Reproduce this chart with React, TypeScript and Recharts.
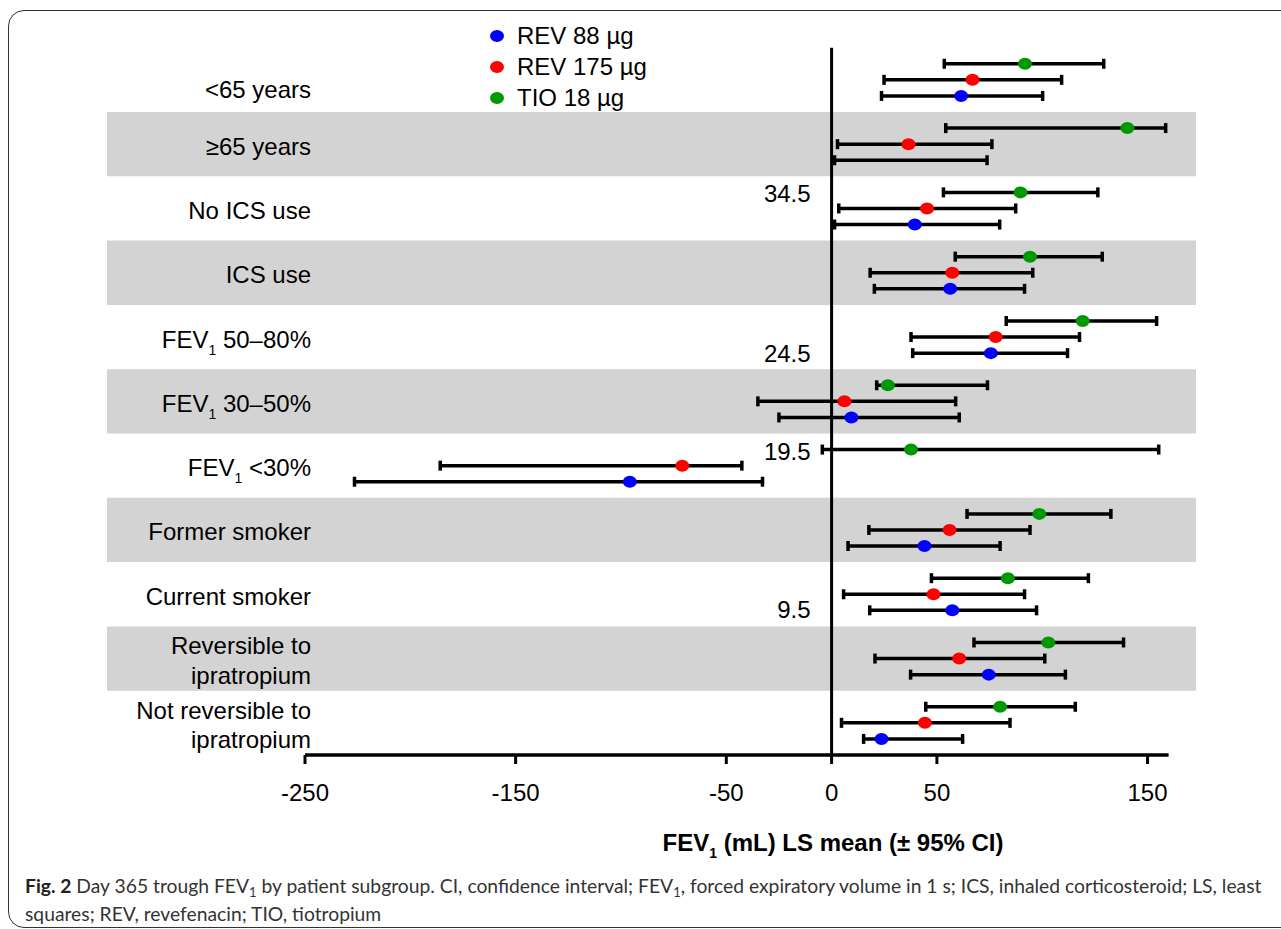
import React from "react";
import { ScatterChart, Scatter, XAxis, YAxis, ReferenceArea, ReferenceLine, ErrorBar, Legend } from "recharts";

// subgroup rows, top to bottom
const categories: string[][] = [
  ["<65 years"],
  ["≥65 years"],
  ["No ICS use"],
  ["ICS use"],
  ["FEV1 50–80%"],
  ["FEV1 30–50%"],
  ["FEV1 <30%"],
  ["Former smoker"],
  ["Current smoker"],
  ["Reversible to", "ipratropium"],
  ["Not reversible to", "ipratropium"],
];

// REV 88 µg (blue) – mean is missing for ≥65 years in the figure
const rev88Mean = [61.5, null, 39.5, 56.3, 75.6, 9.4, -95.8, 44.1, 57.3, 74.6, 23.7];
const rev88Low = [23.7, 1.4, 1.4, 20.3, 38.5, -25.0, -226.5, 7.8, 18.1, 37.5, 15.2];
const rev88High = [100.2, 73.8, 79.8, 91.6, 112.0, 60.6, -32.8, 80.0, 97.3, 111.0, 62.2];

// REV 175 µg (red)
const rev175Mean = [66.9, 36.5, 45.3, 57.3, 77.9, 6.1, -70.9, 56.0, 48.4, 60.6, 44.3];
const rev175Low = [24.9, 2.8, 3.4, 18.3, 37.7, -35.0, -185.8, 17.7, 5.7, 20.6, 4.7];
const rev175High = [109.2, 76.1, 87.4, 95.5, 117.7, 58.9, -42.6, 94.2, 91.6, 101.2, 84.7];

// TIO 18 µg (green)
const tioMean = [91.8, 140.4, 89.7, 94.2, 119.2, 26.7, 37.7, 98.6, 83.7, 102.9, 80.0];
const tioLow = [53.5, 54.2, 53.1, 58.7, 82.9, 21.4, -4.4, 64.3, 47.4, 67.6, 44.7];
const tioHigh = [129.2, 158.6, 126.4, 128.5, 154.3, 74.0, 155.3, 132.6, 121.9, 138.6, 115.7];

const xTicks = [-250, -150, -50, 0, 50, 150];

// stray y labels next to the zero line
const zeroLabelText = ["34.5", "24.5", "19.5", "9.5"];
const zeroLabelY = [34.9, 25.0, 18.9, 9.05];

const FONT = "'Liberation Sans', Arial, Helvetica, sans-serif";
const BLUE = "#0000ff";
const RED = "#ff0000";
const GREEN = "#009a00";

const rowCenter = (i: number) => 42 - 4 * i;

function buildSeries(mean: (number | null)[], low: number[], high: number[], offset: number) {
  return mean.map((m, i) => {
    const x = m ?? (low[i] + high[i]) / 2;
    return { x, y: rowCenter(i) + offset, err: [x - low[i], high[i] - x], hasDot: m !== null };
  });
}

const series = [
  { name: "REV 88 µg", color: BLUE, data: buildSeries(rev88Mean, rev88Low, rev88High, -1) },
  { name: "REV 175 µg", color: RED, data: buildSeries(rev175Mean, rev175Low, rev175High, 0) },
  { name: "TIO 18 µg", color: GREEN, data: buildSeries(tioMean, tioLow, tioHigh, 1) },
];

const zeroLabels = zeroLabelText.map((t, i) => ({ x: 0, y: zeroLabelY[i], text: t }));

function LabelLine({ text }: { text: string }) {
  if (text.startsWith("FEV1")) {
    return (
      <>
        <tspan>FEV</tspan>
        <tspan fontSize={14} dy={7}>1</tspan>
        <tspan dy={-7}>{text.slice(4)}</tspan>
      </>
    );
  }
  return <>{text}</>;
}

function CategoryTick(props: any) {
  const { y, index } = props;
  const lines = categories[index] || [];
  const base = index === 0 ? y + 10 : y + 2;
  return (
    <g>
      {lines.map((line, k) => (
        <text
          key={k}
          x={311}
          y={base + 8.5 + (k - (lines.length - 1) / 2) * 29.5}
          textAnchor="end"
          fontSize={24}
          fontFamily={FONT}
          fill="#000"
        >
          <LabelLine text={line} />
        </text>
      ))}
    </g>
  );
}

const makeDot = (color: string) => (props: any) => {
  const { cx, cy, payload } = props;
  if (!payload || !payload.hasDot) return <g />;
  return <ellipse cx={cx} cy={cy} rx={7} ry={6} fill={color} />;
};

const ZeroLabel = (props: any) => {
  const { cx, cy, payload } = props;
  return (
    <text x={cx - 21} y={cy + 8.5} textAnchor="end" fontSize={24} fontFamily={FONT} fill="#000">
      {payload.text}
    </text>
  );
};

const AxisTitle = () => (
  <text x={833} y={851} textAnchor="middle" fontSize={24} fontWeight="bold" fontFamily={FONT} fill="#000">
    <tspan>FEV</tspan>
    <tspan fontSize={14} dy={7}>1</tspan>
    <tspan dy={-7}> (mL) LS mean (± 95% CI)</tspan>
  </text>
);

const LegendContent = () => (
  <div style={{ fontFamily: FONT, fontSize: 24, color: "#000" }}>
    {series.map((s) => (
      <div key={s.name} style={{ display: "flex", alignItems: "center", height: 31 }}>
        <svg width={16} height={14}>
          <ellipse cx={8} cy={7} rx={7} ry={6} fill={s.color} />
        </svg>
        <span style={{ marginLeft: 12, lineHeight: "31px" }}>{s.name}</span>
      </div>
    ))}
  </div>
);

const subStyle: React.CSSProperties = { fontSize: 13, position: "relative", top: 4 };

export default function App() {
  const bandRows = [1, 3, 5, 7, 9];
  return (
    <div style={{ position: "absolute", left: 0, top: 0, width: 1281, height: 929, overflow: "hidden", background: "#fff" }}>
      <div
        style={{
          position: "absolute",
          left: 8,
          top: 10,
          width: 1320,
          height: 916,
          border: "1.5px solid #333",
          borderRadius: 16,
        }}
      />
      <div style={{ position: "absolute", left: 0, top: 0 }}>
        <ScatterChart width={1281} height={929} margin={{ top: 47.7, right: 85, bottom: 114, left: 47 }}>
          {bandRows.map((i) => (
            <ReferenceArea
              key={i}
              x1={-344}
              x2={173}
              y1={rowCenter(i) - 2}
              y2={rowCenter(i) + 2}
              fill="#d3d3d3"
              fillOpacity={1}
              stroke="none"
            />
          ))}
          <XAxis
            type="number"
            dataKey="x"
            domain={[-344, 173]}
            allowDataOverflow
            ticks={xTicks}
            axisLine={false}
            tickLine={{ stroke: "#000", strokeWidth: 3 }}
            tickSize={9}
            tickMargin={20}
            tick={{ fill: "#000", fontSize: 24, fontFamily: FONT }}
            height={60}
            label={AxisTitle}
          />
          <YAxis
            type="number"
            dataKey="y"
            domain={[0, 44]}
            allowDataOverflow
            ticks={categories.map((_, i) => rowCenter(i))}
            interval={0}
            axisLine={false}
            tickLine={false}
            tick={CategoryTick}
            width={60}
          />
          <ReferenceLine x={0} stroke="#000" strokeWidth={3} />
          <ReferenceLine
            segment={[
              { x: -250, y: 0 },
              { x: 160, y: 0 },
            ]}
            stroke="#000"
            strokeWidth={3.5}
          />
          {series.map((s) => (
            <Scatter
              key={s.name}
              name={s.name}
              data={s.data}
              fill={s.color}
              shape={makeDot(s.color)}
              isAnimationActive={false}
            >
              <ErrorBar dataKey="err" direction="x" width={5} strokeWidth={3.5} stroke="#000" />
            </Scatter>
          ))}
          <Scatter data={zeroLabels} shape={ZeroLabel} legendType="none" isAnimationActive={false} />
          <Legend
            layout="vertical"
            align="center"
            verticalAlign="middle"
            content={LegendContent}
            wrapperStyle={{ left: 489, top: 20, width: 200 }}
          />
        </ScatterChart>
      </div>
      <div
        style={{
          position: "absolute",
          left: 25,
          top: 873,
          fontFamily: "Lato, 'Open Sans', sans-serif",
          fontSize: 19.3,
          lineHeight: "25px",
          color: "#333",
          whiteSpace: "nowrap",
        }}
      >
        <b style={{ color: "#222" }}>Fig. 2</b> Day 365 trough FEV
        <span style={subStyle}>1</span> by patient subgroup. CI, confidence interval; FEV
        <span style={subStyle}>1</span>, forced expiratory volume in 1 s; ICS, inhaled corticosteroid; LS, least
        <br />
        squares; REV, revefenacin; TIO, tiotropium
      </div>
    </div>
  );
}
